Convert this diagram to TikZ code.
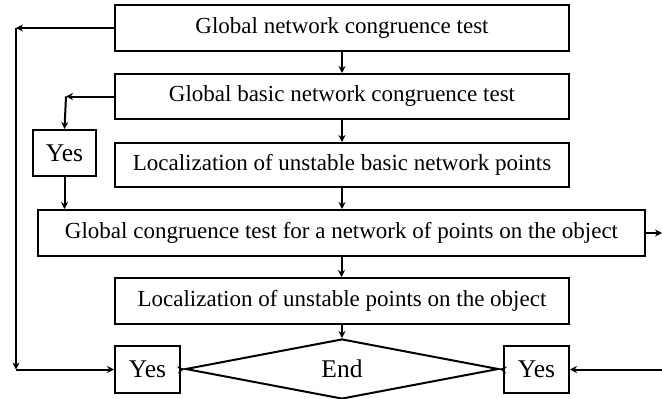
\documentclass[tikz,border=0pt]{standalone}
\usepackage{fontspec}
\setmainfont{Liberation Serif}
\usetikzlibrary{shapes.geometric,arrows.meta}
\tikzset{
  box/.style={draw, line width=2pt, inner sep=0pt, font=\fontsize{23}{26}\selectfont, anchor=center},
  big/.style={font=\fontsize{25.5}{28}\selectfont},
  dia/.style={draw, line width=2pt, shape=diamond, inner sep=0pt, minimum width=313pt, minimum height=60pt},
  conn/.style={line width=2pt, -{Stealth[length=7pt,width=7pt]}},
}
\begin{document}
\begin{tikzpicture}[x=1pt,y=-1pt]
\useasboundingbox (0,0) rectangle (662,399);
\node[box, minimum width=454pt, minimum height=46pt] (b1) at (342,28) {Global network congruence test};
\node[box, minimum width=454pt, minimum height=45pt] (b2) at (342,96.5) {Global basic network congruence test};
\node[box, minimum width=454pt, minimum height=44pt] (b3) at (342,165) {Localization of unstable basic network points};
\node[box, big, minimum width=63pt, minimum height=46pt] (yl) at (64.5,153) {Yes};
\node[box, minimum width=607pt, minimum height=46pt] (b4) at (341.5,233) {Global congruence test for a network of points on the object};
\node[box, minimum width=454pt, minimum height=46pt] (b5) at (342,301) {Localization of unstable points on the object};
\node[box, big, minimum width=65pt, minimum height=47pt] (yb) at (147.5,369.5) {Yes};
\node[dia, big] (end) at (342,369) {End};
\node[box, big, minimum width=65pt, minimum height=47pt] (yr) at (536.5,369.5) {Yes};
\coordinate (c1) at (16,28);
\coordinate (c2) at (16,369.5);
\coordinate (c3) at (66,96.5);
\coordinate (r1) at (662,233);
\coordinate (r2) at (662,369.5);
\draw[conn] (b1) -- (b2);
\draw[conn] (b2) -- (b3);
\draw[conn] (b3.south) -- (b3.south |- b4.north);
\draw[conn] (b4.south) -- (b4.south |- b5.north);
\draw[conn] (b5.south) -- (end.north);
\draw[conn] (b1.west) -- (c1);
\draw[conn] (c1) -- (c2);
\draw[conn] (c2) -- (yb.west);
\draw[conn] (b2.west) -- (c3);
\draw[conn] (c3) -- (yl.north);
\draw[conn] (yl.south) -- (yl.south |- b4.north);
\draw[conn] (yb.east) -- (end.west);
\draw[conn] (yr.west) -- (end.east);
\draw[conn] (r2) -- (yr.east);
\draw[conn] (b4.east) -- (r1);
\end{tikzpicture}
\end{document}
